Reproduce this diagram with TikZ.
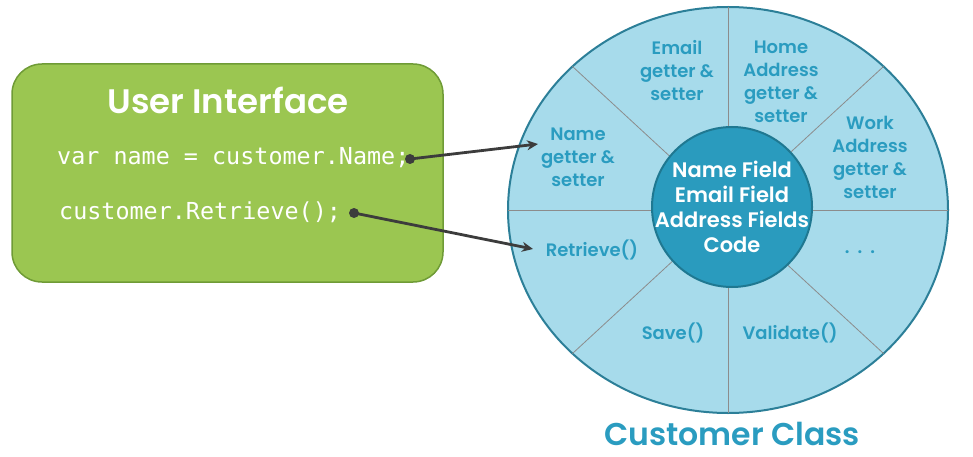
\documentclass[tikz,border=0pt]{standalone}
\usepackage{fontspec}
\setmainfont{Poppins}[UprightFont=* Medium,BoldFont=* SemiBold]
\setmonofont{DejaVu Sans Mono}
\usepackage{xcolor}
\usetikzlibrary{positioning, arrows.meta}
\definecolor{uigreen}{HTML}{9BC651}
\definecolor{uiborder}{HTML}{6F9B36}
\definecolor{ringfill}{HTML}{A7DBEB}
\definecolor{ringline}{HTML}{2C7F98}
\definecolor{corefill}{HTML}{2A9BBE}
\definecolor{coreline}{HTML}{1F7891}
\definecolor{labeltext}{HTML}{2A9CC0}
\definecolor{arrowgray}{HTML}{3C3C3C}
\tikzstyle{arrow} = [-{Stealth[length=11pt,width=10pt]}, line width=2.8pt, draw=arrowgray]
\tikzstyle{dot} = [circle, fill=arrowgray, minimum size=10pt, inner sep=0pt]
\tikzstyle{uibox} = [rectangle, rounded corners=30pt, fill=uigreen, draw=uiborder, line width=1.5pt, minimum width=431pt, minimum height=218pt]
\tikzstyle{code} = [text=white, inner sep=0pt, font=\ttfamily\fontsize{23.4}{26}\selectfont]
\tikzstyle{slice} = [text=labeltext, align=center, inner sep=0pt, font=\fontsize{18}{23}\selectfont\bfseries]
\tikzstyle{corecircle} = [circle, fill=corefill, draw=coreline, line width=2pt, minimum size=160pt, inner sep=0pt]
\tikzstyle{coretext} = [text=white, align=center, inner sep=0pt, font=\fontsize{21}{25}\selectfont\bfseries]
\tikzstyle{divider} = [draw=black!45, line width=0.8pt]

\begin{document}
\begin{tikzpicture}[x=1pt, y=-1pt]
  \useasboundingbox (0,0) rectangle (973,457);

  % User interface box
  \node (ui) [uibox] at (227.5,173) {};
  \node (title) [text=white, font=\fontsize{34}{36}\selectfont\bfseries] at (228,100) {User Interface};
  \node (nameline) [code, anchor=west] at (57,158) {var name = customer.Name;};
  \node (retrline) [code, anchor=west] at (59,212) {customer.Retrieve();};

  % Customer class ring
  \coordinate (hub) at (728,210);
  \draw[fill=ringfill, draw=ringline, line width=2pt] (hub) ellipse [x radius=220, y radius=203];
  \foreach \a in {0,45,...,315}
    \draw[divider] (hub) -- ++(\a:220 and 203);
  \node (core) [corecircle] at (732,207) {};
  \node (fields) [coretext] at (core) {Name Field\\Email Field\\Address Fields\\Code};

  % Member labels
  \node (email) [slice] at (677,71) {Email\\getter \&\\setter};
  \node (home) [slice] at (781,82) {Home\\Address\\getter \&\\setter};
  \node (name) [slice] at (578,157) {Name\\getter \&\\setter};
  \node (work) [slice] at (870,157) {Work\\Address\\getter \&\\setter};
  \node (retrieve) [slice] at (592,250) {Retrieve()};
  \node (more) [slice] at (860,252) {.\hspace{8pt}.\hspace{8pt}.};
  \node (save) [slice] at (673,333) {Save()};
  \node (validate) [slice] at (790,333) {Validate()};
  \node (classname) [text=labeltext, font=\fontsize{31.5}{34}\selectfont\bfseries] at (732,434) {Customer Class};

  % Arrows
  \node (namedot) [dot] at (410,159) {};
  \node (retrdot) [dot] at (354,213) {};
  \coordinate (nametip) at (538,144);
  \coordinate (retrtip) at (533,249);
  \draw[arrow] (namedot.center) -- (nametip);
  \draw[arrow] (retrdot.center) -- (retrtip);

\end{tikzpicture}
\end{document}
